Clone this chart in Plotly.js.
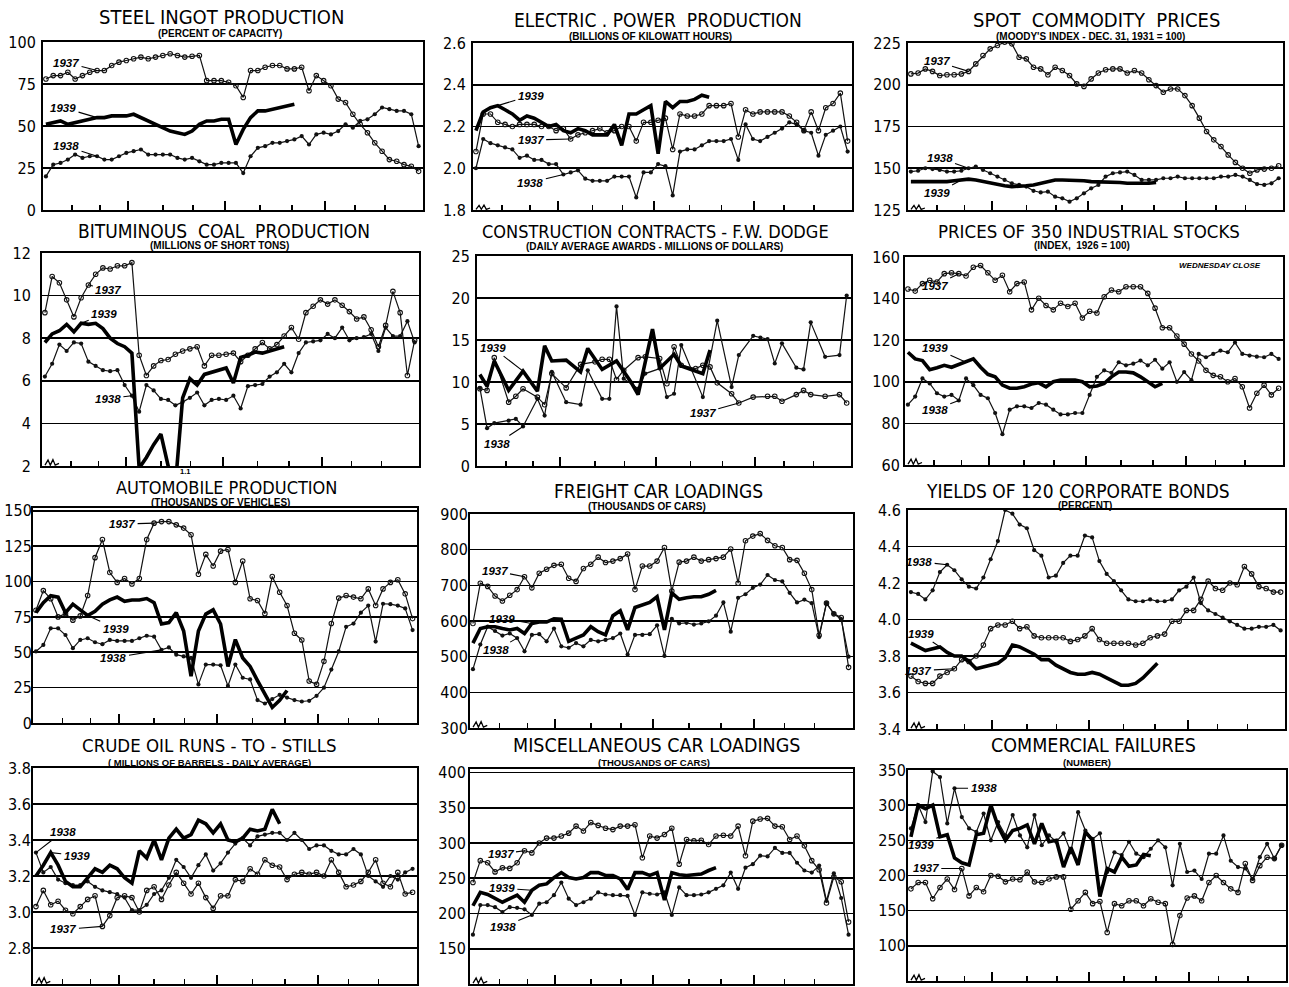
<!DOCTYPE html>
<html><head><meta charset="utf-8">
<script src="https://cdn.plot.ly/plotly-3.0.1.min.js"></script>
<style>html,body{margin:0;padding:0;background:#fff}#chart{width:1289px;height:987px}</style>
</head><body><div id="chart"></div>
<script>
// ---------------- DATA (weekly values) ----------------
const steel1937 = [78,80,80,82,78,80,82,83,83,86,88,89,90,91,90,91,92,93,92,91,91.5,92,77,77,77,76,74,67,83,83,85,86,86,84,84,85,71,80,77,74,66,64,57,51,46,40,35,30,29,27,26,23];
const steel1938 = [20,27,28,30,33,31,32,32,30,30,32,34,35,36,33,33,33,33,31,30,31,29,27,27,28,28,28,22,32,37,38,40,40,41,42,44,39,45,46,45,47,51,49,53,54,57,61,60,59,59,57,38];
const steel1939 = [51,52,53,51,52,53,54,55,55,56,56,56,57,55,53,51,49,47,46,45,47,51,53,53,54,54,39,48,55,59,59,60,61,62,63];

const elec1937 = [2.08,2.26,2.26,2.22,2.21,2.20,2.21,2.21,2.21,2.20,2.20,2.18,2.19,2.14,2.16,2.17,2.18,2.19,2.17,2.18,2.20,2.20,2.13,2.22,2.22,2.23,2.24,2.09,2.26,2.25,2.25,2.26,2.30,2.30,2.30,2.31,2.15,2.28,2.26,2.27,2.27,2.27,2.27,2.25,2.22,2.18,2.27,2.18,2.29,2.31,2.36,2.13];
const elec1938 = [2.00,2.14,2.12,2.11,2.10,2.09,2.05,2.06,2.04,2.04,2.02,2.02,1.97,1.98,1.99,1.95,1.94,1.94,1.94,1.96,1.96,1.96,1.86,1.98,1.98,2.02,2.01,1.87,2.08,2.09,2.09,2.11,2.13,2.13,2.13,2.14,2.04,2.21,2.14,2.13,2.15,2.17,2.19,2.22,2.21,2.18,2.17,2.06,2.16,2.18,2.20,2.08];
const elec1939 = [2.18,2.27,2.29,2.30,2.28,2.26,2.23,2.25,2.24,2.22,2.20,2.21,2.18,2.17,2.19,2.18,2.16,2.16,2.16,2.21,2.11,2.26,2.26,2.28,2.30,2.07,2.32,2.29,2.32,2.32,2.33,2.35,2.34];

const comm1937 = [206.5,207,209.5,208,205.5,206,206,206.5,208,212.5,217.5,221.5,223.5,225.5,224.5,216.5,215.5,210.5,209.5,206,210.5,208.5,205.5,200.5,199,203.5,207,209,209.5,209.5,207,208.5,207,203,199.5,195.5,197.5,197.5,193.5,187.5,180,172,167,163,158,153.5,150,147,149,149.5,150,151.5];
const comm1938 = [148,148.5,150,149.5,149,148,148,148.5,150,151,149,147,145,143,141,140,139,136.5,135.5,136,133,132,130,132,135,138,140,145,147,147.5,148,146,143,143,143,144,144,145,144,144,144,144,144,145,145,146,145,143,140.5,140,141,144];
const comm1939 = [142,142,141.5,141.5,142,142,142.5,143,143.5,143,142,141,140,139.5,139,139,139.5,140,141,142,143,143,143,143,142.5,142,142,142,142,141.5,141,141,140.5,141,141.5];

const coal1937 = [9.2,10.9,10.6,9.8,9.0,9.9,10.5,11.0,11.3,11.25,11.4,11.4,11.55,7.2,6.25,6.7,6.95,7.0,7.25,7.4,7.5,7.6,6.7,7.2,7.2,7.25,7.3,6.9,7.2,7.5,7.8,7.5,7.7,8.1,8.5,7.95,9.2,9.5,9.8,9.6,9.8,9.55,9.25,8.9,9.0,8.4,7.6,8.6,10.2,9.2,6.25,7.9];
const coal1938 = [6.2,6.8,7.7,7.4,7.8,7.75,6.9,6.7,6.5,6.45,6.5,5.8,5.3,4.55,5.8,5.55,5.15,5.1,4.85,5.0,5.2,5.45,4.85,5.1,5.15,5.1,5.3,4.7,5.75,5.8,5.85,6.2,6.4,6.8,6.4,7.3,7.8,7.85,7.9,8.2,8.0,8.5,7.9,8.0,8.05,8.2,7.4,8.5,8.1,8.1,8.8,7.8];
const coal1939 = [7.8,8.2,8.35,8.65,8.3,8.7,8.65,8.7,8.45,8.0,7.75,7.6,7.3,1.9,2.4,3.0,3.5,2.0,1.1,5.2,6.1,5.8,6.3,6.4,6.5,6.6,5.9,7.1,7.2,7.35,7.3,7.4,7.5,7.6];

const constrWeeks1937 = [1,2,3,5,6,7,9,10,11,13,15,17,18,19,20,21,23,24,26,27,28,29,31,32,33,34,36,37,39,41,42,43,45,46,47,49,51,52];
const constr1937 = [9.2,9.0,12.9,7.6,8.3,9.2,8.2,7.3,11.0,9.3,12.1,12.4,12.7,12.7,10.3,11.4,12.9,13.0,12.8,9.8,14.2,12.0,11.6,12.0,11.8,9.9,8.6,7.5,8.2,8.3,8.3,7.7,8.5,9.0,8.5,8.3,8.5,7.5];
const constrWeeks1938 = [1,2,3,5,6,7,9,10,11,13,15,16,18,19,20,21,23,24,26,27,28,29,32,34,36,37,39,40,41,42,43,45,46,47,49,51,52];
const constr1938 = [9.3,4.5,5.1,5.4,5.6,4.7,8.0,6.0,11.2,7.6,7.3,11.4,8.0,8.0,19.0,10.4,9.2,11.0,11.6,8.2,8.6,14.4,8.2,17.3,9.4,13.2,15.5,15.3,15.1,12.2,14.6,11.7,11.5,17.1,13.0,13.2,20.3];
const constrWeeks1939 = [1,2,3,5,7,9,10,11,13,15,16,18,20,22,23,25,26,28,29,32,33];
const constr1939 = [10.9,9.5,12.5,9.0,11.3,8.9,14.3,12.5,12.6,11.2,14.0,11.5,12.5,10.0,8.5,16.3,11.6,13.3,11.9,11.0,13.8];

const stock1937 = [144.6,143.6,147.2,148.8,148,152,152.4,152,150.9,155.1,155.9,152.4,148.8,151.2,143.3,147.2,148,134.6,140.2,136.7,134.6,137.8,136.2,137.8,130.7,133.9,133.1,140.9,144.1,143.3,145.7,145.7,145.7,142.5,135.4,126,126,122,118.1,113.4,110,105.5,103.1,102.4,100,101.6,97.6,87.4,94.5,98.4,93.7,96.9];
const stock1938 = [89,92.9,101.6,99.2,94.5,92.9,93.7,91,101.6,98.4,93.7,92.1,85,74.8,86.6,88.2,88.2,87.4,89.8,89,86.6,84.3,84.3,85,85,93.7,102.4,105.5,104.3,109.4,107.9,108.7,110.2,107.9,110.6,106.3,109.4,100,104.7,100.8,113.4,111.8,113.4,115,114.2,118.9,113.4,112.6,112.1,111.8,113.4,111];
const stock1939 = [114.2,111,110.2,105.8,106.8,107.9,107,108.3,109.4,111,107,103.6,102.4,98.4,96.9,96.9,97.6,98.9,99.5,97.6,100,100.8,100.8,100.8,100,97.6,98,99.2,102.4,104.7,104.7,104.3,102.4,100,97.6,99.2];

const auto1937 = [79.7,93.6,87.8,75,77.3,72.7,75.7,90.1,116.9,129.7,106.4,99.4,102.2,98.3,102.2,129.7,141.3,142.4,142.4,140.1,137.8,133.1,105.2,119.2,111,121.5,122.7,99.4,114.5,87.8,86.6,77.3,103.6,92.4,83.1,63.4,58.7,29.7,27.3,43.6,70.3,88.3,90.1,89,87.8,94.8,83.1,94.8,99.4,101.3,91.3,73.8];
const auto1938 = [50.6,55.2,66.9,66.9,62.2,52.9,58.7,59.9,57.1,55.7,58.7,58,58,58,59.9,61.7,61,51.7,53.4,48.3,47.1,46,27.3,41.3,41.3,40.8,26.2,41.3,32,30.8,16.2,13.8,16.9,19.9,18,16.2,15.2,15.7,19.2,25,37.8,50.6,68,70.3,78,83,57.6,84.3,84,83,81,65.7];
const auto1939 = [78,85,90,89,78,84,80,76,79,84,87,89,86,87,87,88,85,70,71,78,65,33,65,77,80,70,40,59,46,40,30,20,11,16,23];

const freight1937 = [593,706,697,670,656,672,688,724,693,734,745,756,759,720,711,747,759,779,764,768,775,788,688,754,754,768,806,684,765,768,779,768,772,775,779,802,706,825,838,845,826,811,806,772,770,734,688,560,650,620,610,470];
const freight1938 = [465,534,584,572,559,565,552,515,561,563,543,579,529,525,538,529,547,543,547,552,565,506,561,561,563,588,502,606,593,595,590,593,599,615,652,570,665,675,693,702,729,715,711,679,652,660,650,555,650,620,605,500];
const freight1939 = [538,579,584,584,579,575,579,565,593,597,597,606,605,543,552,561,584,570,561,615,629,575,638,645,652,668,575,679,661,665,668,668,675,686];

const bond1937 = [3.69,3.66,3.65,3.65,3.69,3.71,3.73,3.78,3.77,3.80,3.86,3.95,3.97,3.97,3.99,3.95,3.96,3.91,3.90,3.90,3.90,3.90,3.88,3.89,3.91,3.95,3.89,3.87,3.87,3.87,3.87,3.86,3.87,3.90,3.91,3.92,3.99,3.99,4.05,4.05,4.11,4.21,4.17,4.16,4.20,4.19,4.29,4.25,4.18,4.17,4.15,4.15];
const bond1938 = [4.15,4.14,4.11,4.16,4.26,4.30,4.27,4.22,4.18,4.17,4.23,4.33,4.43,4.60,4.58,4.52,4.50,4.38,4.35,4.23,4.24,4.31,4.35,4.35,4.46,4.45,4.32,4.25,4.21,4.16,4.11,4.10,4.10,4.11,4.10,4.10,4.11,4.16,4.18,4.23,4.09,4.05,4.03,4.01,3.99,3.97,3.95,3.95,3.96,3.96,3.97,3.94];
const bond1939 = [3.87,3.85,3.83,3.84,3.85,3.82,3.80,3.80,3.77,3.73,3.74,3.75,3.76,3.79,3.86,3.85,3.83,3.81,3.78,3.78,3.75,3.73,3.71,3.70,3.70,3.71,3.70,3.68,3.66,3.64,3.64,3.65,3.68,3.72,3.76];

const crude1937 = [3.03,3.12,3.04,3.06,3.01,2.99,3.03,3.07,3.09,2.92,2.98,3.08,3.09,3.08,3.00,3.12,3.14,3.07,3.15,3.22,3.16,3.10,3.16,3.08,3.02,3.09,3.09,3.18,3.17,3.24,3.21,3.29,3.26,3.25,3.18,3.21,3.22,3.21,3.22,3.20,3.29,3.22,3.14,3.15,3.17,3.22,3.29,3.16,3.14,3.22,3.10,3.11];
const crude1938 = [3.33,3.22,3.25,3.18,3.16,3.15,3.15,3.17,3.14,3.12,3.11,3.10,3.08,3.01,3.01,3.04,3.10,3.12,3.19,3.29,3.25,3.19,3.26,3.32,3.23,3.27,3.33,3.38,3.41,3.37,3.42,3.43,3.44,3.44,3.40,3.44,3.40,3.35,3.37,3.37,3.34,3.32,3.32,3.35,3.32,3.20,3.17,3.14,3.20,3.18,3.22,3.24];
const crude1939 = [3.20,3.26,3.33,3.26,3.17,3.14,3.14,3.19,3.24,3.22,3.26,3.24,3.19,3.16,3.34,3.30,3.40,3.29,3.41,3.46,3.41,3.43,3.51,3.49,3.44,3.49,3.40,3.39,3.41,3.46,3.45,3.46,3.57,3.49];

const misc1937 = [244,275,272,259,265,264,272,289,286,300,307,307,310,314,324,317,329,325,321,319,324,324,326,279,310,307,312,321,270,305,303,304,298,310,311,310,324,282,331,334,335,324,323,305,310,296,275,262,215,252,245,188];
const misc1938 = [170,212,212,209,202,209,208,206,198,214,216,226,244,221,212,216,221,230,227,226,226,225,198,230,228,227,230,198,237,226,226,227,230,235,240,258,235,265,270,282,281,293,286,286,272,261,258,268,218,257,222,170];
const misc1939 = [211,230,227,221,216,221,226,216,233,240,242,251,258,251,249,251,258,258,254,254,249,234,258,258,254,258,219,258,255,254,255,256,261,265];

const fail1937 = [181,190,190,167,183,195,180,210,171,183,177,200,199,191,195,194,205,191,190,195,198,198,152,164,176,160,163,119,160,157,164,164,157,167,162,160,102,143,168,171,164,190,200,190,181,176,217,193,214,226,224,243];
const fail1938 = [267,300,276,348,340,274,324,283,267,262,288,250,276,257,286,257,240,286,243,257,248,260,233,290,264,252,260,205,233,229,248,231,226,238,250,240,186,245,205,207,195,231,231,257,221,212,210,195,226,245,224,243];
const fail1939 = [255,300,295,300,255,258,225,218,215,258,260,300,270,250,264,267,272,245,274,248,250,212,240,215,262,250,170,210,205,226,213,215,230,228];

// tick label lists
const ticksSteel = [0,25,50,75,100];
const ticksElec = [1.8,2.0,2.2,2.4,2.6];
const ticksComm = [125,150,175,200,225];
const ticksCoal = [2,4,6,8,10,12];
const ticksConstr = [0,5,10,15,20,25];
const ticksStock = [60,80,100,120,140,160];
const ticksAuto = [0,25,50,75,100,125,150];
const ticksFreight = [300,400,500,600,700,800,900];
const ticksBond = [3.4,3.6,3.8,4.0,4.2,4.4,4.6];
const ticksCrude = [2.6,2.8,3.0,3.2,3.4,3.6,3.8];
const ticksMisc = [100,150,200,250,300,350,400];
const ticksFail = [50,100,150,200,250,300,350];

// ---------------- LAYOUT / STYLE ----------------
const W = 1289, H = 987;
const MAJOR = [12.2, 25.5, 39.2];
const MINOR = [4.6, 8.4, 17.0, 21.1, 30.3, 34.7, 43.3, 47.4];
const XR = [0.6, 52.6];
const NARROW = '"DejaVu Sans Condensed", "DejaVu Sans", sans-serif';
const SANS = '"Liberation Sans", Arial, sans-serif';

const panels = [
 {t:'STEEL INGOT PRODUCTION', fs:20, s:'(PERCENT OF CAPACITY)', ss:10, tx:221, ty:17, sx:220, sy:33, box:[43,423,42,210], yr:[0,100], yt:ticksSteel, dec:0, so:2, brk:false,
  d:[[null,steel1937],[null,steel1938],[null,steel1939]],
  lab:[['1937',8,83,-31,-8],['1939',8,55,-34,-10],['1938',8,32,-31,-10]]},
 {t:'ELECTRIC . POWER  PRODUCTION', fs:19, s:'(BILLIONS OF KILOWATT HOURS)', ss:10, tx:658, ty:20, sx:650, sy:36, box:[473,852,43,210], yr:[1.8,2.6], yt:ticksElec, dec:1, so:2, brk:true,
  d:[[null,elec1937],[null,elec1938],[null,elec1939]],
  lab:[['1939',4,2.30,33,-10],['1937',14,2.14,-40,1],['1938',13,1.97,-33,8]]},
 {t:'SPOT  COMMODITY  PRICES', fs:20, s:"(MOODY'S INDEX - DEC. 31, 1931 = 100)", ss:10, tx:1096, ty:20, sx:1090, sy:36, box:[908,1283,43,210], yr:[125,225], yt:ticksComm, dec:0, so:2, brk:true,
  d:[[null,comm1937],[null,comm1938],[null,comm1939]],
  lab:[['1937',9,208,-32,-10],['1938',9,150,-29,-10],['1939',8,143,-24,13]]},
 {t:'BITUMINOUS  COAL  PRODUCTION', fs:19, s:'(MILLIONS OF SHORT TONS)', ss:10, tx:224, ty:231, sx:219, sy:246, box:[42,419,253,466], yr:[2,12], yt:ticksCoal, dec:0, so:6, brk:true,
  d:[[null,coal1937],[null,coal1938],[null,coal1939]],
  lab:[['1937',7,10.5,20,5],['1939',6,8.7,23,-9],['1938',13,5.3,-24,3]]},
 {t:'CONSTRUCTION CONTRACTS - F.W. DODGE', fs:18, s:'(DAILY AVERAGE AWARDS - MILLIONS OF DOLLARS)', ss:10, tx:655, ty:232, sx:654, sy:247, box:[477,851,256,466], yr:[0,25], yt:ticksConstr, dec:0, so:2, brk:false,
  d:[[constrWeeks1937,constr1937],[constrWeeks1938,constr1938],[constrWeeks1939,constr1939]],
  lab:[['1939',7,11.3,-30,-23],['1938',7,4.7,-26,17],['1937',37,7.5,-36,10]]},
 {t:'PRICES OF 350 INDUSTRIAL STOCKS', fs:18.5, s:'(INDEX,  1926 = 100)', ss:10, tx:1089, ty:231, sx:1082, sy:246, box:[905,1283,257,465], yr:[60,160], yt:ticksStock, dec:0, so:0, brk:true,
  d:[[null,stock1937],[null,stock1938],[null,stock1939]],
  lab:[['1937',8,152,-24,12],['1939',9,109.4,-31,-14],['1938',8,91,-24,9]]},
 {t:'AUTOMOBILE PRODUCTION', fs:18, s:'(THOUSANDS OF VEHICLES)', ss:10, tx:226, ty:488, sx:220, sy:502, box:[33,417,508,723], yr:[0,152], yt:ticksAuto, dec:0, so:-4, brk:false,
  d:[[null,auto1937],[null,auto1938],[null,auto1939]],
  lab:[['1937',17,141.3,-32,1],['1939',8,76,28,13],['1938',18,51.7,-48,8]]},
 {t:'FREIGHT CAR LOADINGS', fs:19, s:'(THOUSANDS OF CARS)', ss:10, tx:658, ty:491, sx:647, sy:506, box:[470,853,514,728], yr:[300,900], yt:ticksFreight, dec:0, so:-3, brk:true,
  d:[[null,freight1937],[null,freight1938],[null,freight1939]],
  lab:[['1937',8,724,-30,-6],['1939',9,593,-30,-5],['1938',7,552,-21,12]]},
 {t:'YIELDS OF 120 CORPORATE BONDS', fs:19, s:'(PERCENT)', ss:10, tx:1078, ty:491, sx:1085, sy:505, box:[908,1285,510,729], yr:[3.4,4.6], yt:ticksBond, dec:1, so:2, brk:true,
  d:[[null,bond1937],[null,bond1938],[null,bond1939]],
  lab:[['1938',6,4.30,-28,-3],['1939',5,3.85,-19,-13],['1937',7,3.73,-36,2]]},
 {t:'CRUDE OIL RUNS - TO - STILLS', fs:18.5, s:'( MILLIONS OF BARRELS - DAILY AVERAGE)', ss:9.5, tx:209, ty:745, sx:209, sy:762, box:[33,417,768,984], yr:[2.6,3.8], yt:ticksCrude, dec:1, so:-3, brk:true,
  d:[[null,crude1937],[null,crude1938],[null,crude1939]],
  lab:[['1938',1,3.33,27,-21],['1939',3,3.33,26,3],['1937',10,2.92,-39,3]]},
 {t:'MISCELLANEOUS CAR LOADINGS', fs:19.5, s:'(THOUSANDS OF CARS)', ss:9.5, tx:656, ty:745, sx:654, sy:762, box:[470,853,769,984], yr:[100,405], yt:ticksMisc, dec:0, so:-1, brk:true,
  d:[[null,misc1937],[null,misc1938],[null,misc1939]],
  lab:[['1937',8,289,-24,3],['1939',9,233,-30,-2],['1938',9,198,-29,12]]},
 {t:'COMMERCIAL FAILURES', fs:19.5, s:'(NUMBER)', ss:9.5, tx:1093, ty:745, sx:1087, sy:762, box:[908,1286,770,981], yr:[50,350], yt:ticksFail, dec:0, so:-3, brk:true,
  d:[[null,fail1937],[null,fail1938],[null,fail1939]],
  lab:[['1938',7,324,29,0],['1939',5,255,-19,8],['1937',8,210,-36,0]]}
];

const traces = [];
const layout = {
  width: W, height: H, margin: {l:0, r:0, t:0, b:0},
  paper_bgcolor: '#fff', plot_bgcolor: '#fff', showlegend: false,
  font: {family: NARROW, color: '#000'},
  annotations: [], shapes: []
};

const seriesStyle = [
  {mode:'lines+markers', line:{color:'#111', width:1.2}, marker:{symbol:'circle-open', size:4.5, color:'#111', line:{width:1.1, color:'#111'}}},
  {mode:'lines+markers', line:{color:'#111', width:1.2}, marker:{symbol:'circle', size:4.2, color:'#111'}},
  {mode:'lines', line:{color:'#000', width:3.6}}
];

panels.forEach((p, i) => {
  const n = i + 1;
  const xa = 'x' + (n === 1 ? '' : n), ya = 'y' + (n === 1 ? '' : n);
  const [l, r, t, b] = p.box;
  layout['xaxis' + (n === 1 ? '' : n)] = {
    domain: [l / W, r / W], anchor: ya, range: XR,
    showline: true, mirror: true, linecolor: '#000', linewidth: 2,
    showgrid: false, zeroline: false, showticklabels: false,
    ticks: 'inside', tickmode: 'array', tickvals: MAJOR, ticklen: 9, tickwidth: 2, tickcolor: '#000',
    minor: {ticks: 'inside', tickmode: 'array', tickvals: MINOR, ticklen: 5, tickwidth: 1.5, tickcolor: '#000', showgrid: false},
    fixedrange: true
  };
  layout['yaxis' + (n === 1 ? '' : n)] = {
    domain: [1 - b / H, 1 - t / H], anchor: xa, range: p.yr,
    showline: true, mirror: true, linecolor: '#000', linewidth: 2,
    showgrid: true, gridcolor: '#000', gridwidth: 1.6, zeroline: false,
    ticks: '', tickmode: 'array', tickvals: p.yt, ticktext: p.yt.map(v => v.toFixed(p.dec)),
    tickfont: {family: NARROW, size: 16, color: '#000'}, ticklabelstandoff: p.so,
    fixedrange: true
  };
  p.d.forEach((sd, k) => {
    const ys = sd[1];
    const xs = sd[0] ? sd[0] : ys.map((_, j) => j + 1);
    traces.push(Object.assign({type:'scatter', x: xs, y: ys, xaxis: xa, yaxis: ya, hoverinfo:'skip', cliponaxis: true}, JSON.parse(JSON.stringify(seriesStyle[k]))));
  });
  layout.annotations.push({xref:'paper', yref:'paper', x: p.tx / W, y: 1 - p.ty / H, xanchor:'center', yanchor:'middle', borderpad: 0,
    text: p.t, showarrow:false, font:{family: NARROW, size: p.fs, color:'#000'}});
  layout.annotations.push({xref:'paper', yref:'paper', x: p.sx / W, y: 1 - p.sy / H, xanchor:'center', yanchor:'middle', borderpad: 0,
    text: p.s, showarrow:false, font:{family: SANS, size: p.ss, color:'#000', weight: 700}});
  p.lab.forEach(a => {
    layout.annotations.push({xref: xa, yref: ya, x: a[1], y: a[2], ax: a[3], ay: a[4], text: a[0],
      showarrow: true, arrowhead: 0, arrowwidth: 1.1, arrowcolor: '#000', standoff: 0, startstandoff: 1,
      font: {family: SANS, size: 11.5, color: '#000', style: 'italic', weight: 700}});
  });
  if (p.brk) {
    // small axis-break squiggle at the lower-left corner (decoration)
    layout.shapes.push({type:'path', xref: xa + ' domain', yref: ya + ' domain',
      path: 'M 0.008,0.004 L 0.016,0.028 L 0.022,0.004 L 0.029,0.03 L 0.035,0.004 L 0.045,0.012',
      line: {color:'#000', width:1.3}});
  }
});

// extra texts
layout.annotations.push({xref:'paper', yref:'paper', x: 1220 / W, y: 1 - 266 / H, xanchor:'center', yanchor:'middle',
  text:'WEDNESDAY CLOSE', showarrow:false, font:{family: SANS, size: 8, color:'#000', style:'italic', weight:700}});
layout.annotations.push({xref:'x4', yref:'y4', x: 19.5, y: 2, yshift: -5, xanchor:'left', yanchor:'middle', borderpad: 0,
  text:'1.1', showarrow:false, font:{family: SANS, size: 7.5, color:'#000', weight:700}});

Plotly.newPlot('chart', traces, layout, {staticPlot: true, displayModeBar: false});
</script></body></html>
